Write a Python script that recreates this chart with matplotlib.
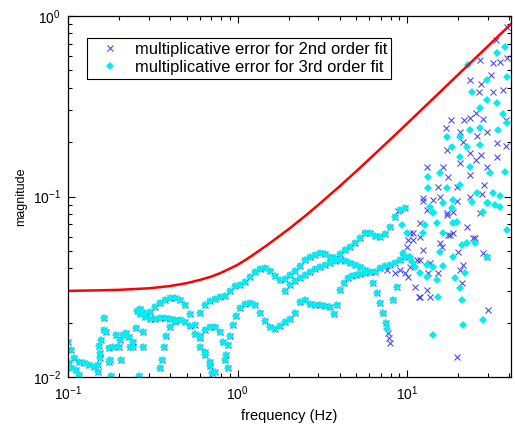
import matplotlib
matplotlib.use('Agg')
import matplotlib.pyplot as plt
from matplotlib.ticker import LogLocator, NullFormatter

plt.rcParams['font.family'] = ['Liberation Sans', 'DejaVu Sans']
plt.rcParams['mathtext.fontset'] = 'custom'
plt.rcParams['mathtext.rm'] = 'Liberation Sans'

# ---------------- data ----------------
# red reference curve
red_f = [0.1, 0.15, 0.2, 0.3, 0.4, 0.5, 0.6, 0.7, 0.8, 1.0, 1.2, 1.5, 2.0, 2.5, 3.0,
         4.0, 5.0, 6.0, 8.0, 10, 13, 17, 22, 28, 35, 41]
red_m = [0.0300, 0.0302, 0.0304, 0.0310, 0.0319, 0.0331, 0.0345, 0.0360, 0.0378, 0.0418,
         0.0466, 0.0539, 0.0659, 0.0779, 0.0900, 0.1139, 0.1377, 0.1614, 0.2079, 0.2536,
         0.3211, 0.4087, 0.5156, 0.6405, 0.7831, 0.9028]

# low-frequency scattered points (both fits)
low_f = [0.100, 0.1041, 0.1085, 0.1161, 0.1243, 0.1330, 0.1424, 0.1503, 0.1544, 0.1631,
         0.1631, 0.1565, 0.1523, 0.1676, 0.1919, 0.2027, 0.2112, 0.2199, 0.2291, 0.2519,
         0.2771, 0.2418, 0.2418, 0.2771, 0.2000, 0.1745, 0.1745, 0.2055, 0.1793, 0.2624,
         0.1161, 0.1503, 0.1014, 0.1041, 0.1115, 0.2554, 0.2660, 0.1842, 0.2322, 0.1769,
         0.1544]
low_m = [0.0156, 0.0141, 0.0127, 0.0121, 0.0120, 0.0117, 0.0114, 0.0117, 0.0127, 0.0213,
         0.0182, 0.0160, 0.0148, 0.0178, 0.0171, 0.0160, 0.0171, 0.0176, 0.0167, 0.0187,
         0.0178, 0.0156, 0.0146, 0.0146, 0.0146, 0.0144, 0.0121, 0.0124, 0.0101, 0.0101,
         0.0103, 0.0106, 0.0120, 0.0112, 0.0109, 0.0232, 0.0238, 0.0146, 0.0146, 0.0124,
         0.0136]

# oscillating branches (both fits)
p_f = [0.266, 0.285, 0.305, 0.326, 0.349, 0.374, 0.400, 0.428, 0.458, 0.490, 0.525,
       0.561, 0.601, 0.643, 0.688, 0.71]
p_m = [0.0232, 0.0226, 0.0229, 0.0245, 0.0257, 0.0267, 0.0273, 0.0273, 0.0267, 0.0251,
       0.0224, 0.0194, 0.0165, 0.0137, 0.0115, 0.0105]

q_f = [0.266, 0.285, 0.305, 0.326, 0.349, 0.374, 0.400, 0.428]
q_m = [0.0224, 0.0216, 0.0210, 0.0210, 0.0213, 0.0213, 0.0210, 0.0207]

l_f = [0.349, 0.3585, 0.3684, 0.3785, 0.400, 0.428, 0.458, 0.490, 0.525, 0.561, 0.601,
       0.643, 0.688, 0.737]
l_m = [0.0112, 0.0124, 0.0146, 0.0169, 0.0189, 0.0202, 0.0207, 0.0202, 0.0192, 0.0173,
       0.0146, 0.0132, 0.0121, 0.0107]

r_f = [0.601, 0.643, 0.688, 0.737, 0.789, 0.821, 0.855, 0.879]
r_m = [0.0169, 0.0182, 0.0189, 0.0189, 0.0178, 0.0156, 0.0132, 0.0112]

t_f = [0.844, 0.879, 0.903, 0.941, 0.980, 1.035, 1.107, 1.185, 1.268, 1.357, 1.453,
       1.555, 1.664, 1.781, 1.906, 2.040, 2.184, 2.337, 2.501, 2.677, 2.865, 3.067,
       3.282, 3.513, 3.71]
t_m = [0.0124, 0.0150, 0.0169, 0.0194, 0.0218, 0.0241, 0.0254, 0.0257, 0.0251, 0.0226,
       0.0205, 0.0189, 0.0185, 0.0192, 0.0202, 0.0210, 0.0226, 0.0260, 0.0267, 0.0254,
       0.0251, 0.0251, 0.0248, 0.0245, 0.0224]

s_f = [0.601, 0.643, 0.688, 0.737, 0.789, 0.844, 0.903, 0.967, 1.035, 1.107, 1.185,
       1.268, 1.357, 1.453, 1.555, 1.664, 1.781, 1.906, 2.040, 2.184, 2.337, 2.501,
       2.677, 2.865, 3.067, 3.282, 3.513, 3.760, 4.024, 4.307, 4.610, 4.934, 5.281,
       5.652, 6.049, 6.474, 6.929, 7.417, 7.938, 8.496, 9.093, 9.732]
s_m = [0.0226, 0.0251, 0.0264, 0.0270, 0.0276, 0.0281, 0.0299, 0.0319, 0.0323, 0.0336,
       0.0358, 0.0382, 0.0399, 0.0401, 0.0387, 0.0362, 0.0345, 0.0349, 0.0367, 0.0387,
       0.0412, 0.0445, 0.0462, 0.0474, 0.0486, 0.0480, 0.0462, 0.0456, 0.0480, 0.0505,
       0.0525, 0.0553, 0.0589, 0.0627, 0.0627, 0.0604, 0.0597, 0.0620, 0.0678, 0.0770,
       0.0842, 0.0863]

v_f = [1.906, 2.040, 2.184, 2.337, 2.501, 2.677, 2.865, 3.067, 3.282, 3.513, 3.760,
       4.024, 4.307, 4.610, 4.934, 5.281, 5.652, 6.049, 6.474, 6.929, 7.417, 7.938,
       8.496, 9.093, 9.732]
v_m = [0.0299, 0.0323, 0.0341, 0.0353, 0.0367, 0.0382, 0.0397, 0.0406, 0.0417, 0.0428,
       0.0439, 0.0445, 0.0439, 0.0428, 0.0417, 0.0406, 0.0392, 0.0382, 0.0382, 0.0401,
       0.0412, 0.0417, 0.0428, 0.0445, 0.0462]

x_f = [3.864, 4.024, 4.249, 4.487, 4.737, 5.002, 5.281, 5.652]
x_m = [0.0251, 0.0303, 0.0332, 0.0353, 0.0362, 0.0367, 0.0372, 0.0377]

w_f = [6.302, 6.653, 6.929, 7.218, 7.519, 8.268, 8.730]
w_m = [0.0332, 0.0292, 0.0257, 0.0226, 0.0199, 0.0267, 0.0315]

# extra points of the notch, per fit
notch2_f = [7.726, 7.938, 7.83]
notch2_m = [0.0176, 0.0154, 0.0165]
notch3_f = [7.62]
notch3_m = [0.0185]

# high-frequency scatter, 2nd order fit
hf2_f = [38.9, 33.5, 26.96, 23.54, 27.3, 31.3, 32.2, 35.38, 38.9, 32.2, 36.8, 26.6,
         25.5, 23.54, 28.1, 21.7, 18.2, 17.0, 20.55, 25.9, 29.7, 34.0, 38.4, 21.4, 17.2,
         23.54, 27.3, 34.0, 13.1, 16.3, 20.55, 25.5, 29.7, 17.5, 23.54, 15.2, 19.7, 28.5,
         12.4, 15.66, 17.2, 26.96, 8.85, 19.7, 22.6, 25.19, 20.0, 21.4, 20.55, 15.24,
         21.1, 30.1, 19.7, 27.7, 23.54, 18.7, 17.2, 11.93, 13.1, 13.67, 11.15, 17.94,
         16.1, 13.67, 11.46, 14.24, 12.4, 18.7, 15.66, 29.7, 24.5, 28.1, 10.0, 10.14,
         10.85, 11.93, 13.1, 17.5, 11.93, 13.3, 38.4, 8.496, 7.62, 9.093, 9.732, 10.42,
         9.47, 10.85, 10.42, 11.93, 12.4, 10.14, 11.76]
hf2_m = [0.869, 0.736, 0.570, 0.442, 0.420, 0.471, 0.549, 0.556, 0.585, 0.379, 0.389,
         0.379, 0.290, 0.272, 0.268, 0.265, 0.265, 0.240, 0.228, 0.216, 0.228, 0.198,
         0.191, 0.201, 0.181, 0.174, 0.170, 0.166, 0.145, 0.145, 0.153, 0.159, 0.145,
         0.129, 0.132, 0.113, 0.113, 0.1158, 0.0944, 0.0994, 0.0810, 0.0810, 0.0831,
         0.0944, 0.0678, 0.0589, 0.0492, 0.0417, 0.0392, 0.0376, 0.0331, 0.0235, 0.0129,
         0.1032, 0.0994, 0.0821, 0.0790, 0.0278, 0.0303, 0.0278, 0.0315, 0.0612, 0.0526,
         0.0428, 0.0445, 0.0956, 0.0981, 0.0628, 0.0553, 0.0462, 0.0589, 0.0486, 0.0526,
         0.0574, 0.0628, 0.0713, 0.0842, 0.0612, 0.0445, 0.0376, 0.265, 0.0376, 0.0392,
         0.0392, 0.0376, 0.0407, 0.0462, 0.0574, 0.0628, 0.0597, 0.0505, 0.0358, 0.0278]

# high-frequency scatter, 3rd order fit
hf3_f = [22.9, 34.0, 37.86, 29.7, 38.9, 24.2, 29.7, 34.0, 26.96, 36.8, 17.2, 20.55,
         23.54, 26.96, 34.4, 38.9, 18.4, 22.6, 26.96, 20.55, 13.3, 15.66, 30.88, 37.86,
         23.54, 13.3, 17.2, 20.55, 32.2, 25.9, 24.2, 13.67, 18.4, 28.1, 35.38, 35.38,
         33.05, 30.1, 38.9, 29.7, 25.19, 21.99, 20.55, 21.1, 28.1, 21.4, 14.24, 15.24,
         16.3, 19.20, 18.7, 14.24, 18.7, 16.3, 9.34, 10.0, 9.47, 10.42, 11.15, 11.93,
         13.1, 14.24, 15.03, 12.77, 14.24, 16.3, 19.7, 21.1, 29.7, 10.7, 12.4, 13.1,
         15.03, 15.66, 18.7, 22.6]
hf3_m = [0.535, 0.624, 0.674, 0.442, 0.459, 0.379, 0.342, 0.329, 0.309, 0.287, 0.214,
         0.214, 0.234, 0.240, 0.234, 0.255, 0.188, 0.188, 0.193, 0.166, 0.129, 0.135,
         0.135, 0.137, 0.145, 0.1114, 0.1114, 0.1158, 0.1045, 0.1045, 0.0932, 0.0875,
         0.0864, 0.0821, 0.0875, 0.1006, 0.0897, 0.0920, 0.0652, 0.0462, 0.0553, 0.0376,
         0.0311, 0.0267, 0.0207, 0.0194, 0.0171, 0.0278, 0.0412, 0.0354, 0.0956, 0.0821,
         0.0713, 0.0628, 0.0695, 0.0628, 0.0486, 0.0462, 0.0407, 0.0376, 0.0358, 0.0407,
         0.0345, 0.0695, 0.0810, 0.0920, 0.0722, 0.0539, 0.0920, 0.0434, 0.0628, 0.0417,
         0.0713, 0.0492, 0.0462, 0.0553]

legend_labels = ['multiplicative error for 2nd order fit',
                 'multiplicative error for 3rd order fit']
x_ticks = [0.1, 1, 10]
x_ticklabels = [r'$\mathregular{10^{-1}}$', r'$\mathregular{10^{0}}$', r'$\mathregular{10^{1}}$']
y_ticks = [0.01, 0.1, 1]
y_ticklabels = [r'$\mathregular{10^{-2}}$', r'$\mathregular{10^{-1}}$', r'$\mathregular{10^{0}}$']

# ---------------- assemble ----------------
shared_f = low_f + p_f + q_f + l_f + r_f + t_f + s_f + v_f + x_f + w_f
shared_m = low_m + p_m + q_m + l_m + r_m + t_m + s_m + v_m + x_m + w_m
blue_f = shared_f + notch2_f + hf2_f
blue_m = shared_m + notch2_m + hf2_m
cyan_f = shared_f + notch3_f + hf3_f
cyan_m = shared_m + notch3_m + hf3_m

fig = plt.figure(figsize=(5.15, 4.3), dpi=100)
ax = fig.add_axes([68 / 515, 1 - 377 / 430, 443 / 515, 361 / 430])

ax.plot(blue_f, blue_m, linestyle='none', marker='x', color='#4343ee',
        markersize=5.0, markeredgewidth=0.75, label=legend_labels[0])
ax.plot(cyan_f, cyan_m, linestyle='none', marker='D', color='#00eeee',
        markeredgewidth=0, markersize=3.6, label=legend_labels[1])
ax.plot(red_f, red_m, '-', color='red', linewidth=1.8)

ax.set_xscale('log')
ax.set_yscale('log')
ax.set_xlim(0.1, 41)
ax.set_ylim(0.01, 1)

ax.set_xticks(x_ticks)
ax.set_xticklabels(x_ticklabels)
ax.set_yticks(y_ticks)
ax.set_yticklabels(y_ticklabels)
ax.xaxis.set_minor_locator(LogLocator(base=10, subs=range(2, 10), numticks=20))
ax.yaxis.set_minor_locator(LogLocator(base=10, subs=range(2, 10), numticks=20))
ax.xaxis.set_minor_formatter(NullFormatter())
ax.yaxis.set_minor_formatter(NullFormatter())
ax.tick_params(which='both', direction='in', top=True, right=True, width=0.8)
ax.tick_params(which='major', length=5, labelsize=10, pad=5)
ax.tick_params(which='minor', length=3)
for sp in ax.spines.values():
    sp.set_linewidth(0.9)

ax.set_xlabel('frequency (Hz)', fontsize=10.5, labelpad=5)
ax.set_ylabel('magnitude', fontsize=9)

leg = ax.legend(loc='upper left', bbox_to_anchor=(0.043, 0.939), borderaxespad=0,
                fontsize=11.9, numpoints=1, handlelength=2.3, handletextpad=0.35,
                borderpad=0.25, labelspacing=0.16, fancybox=False, framealpha=1,
                edgecolor='black')
leg.get_frame().set_linewidth(0.8)

fig.savefig('out.png', dpi=100)
